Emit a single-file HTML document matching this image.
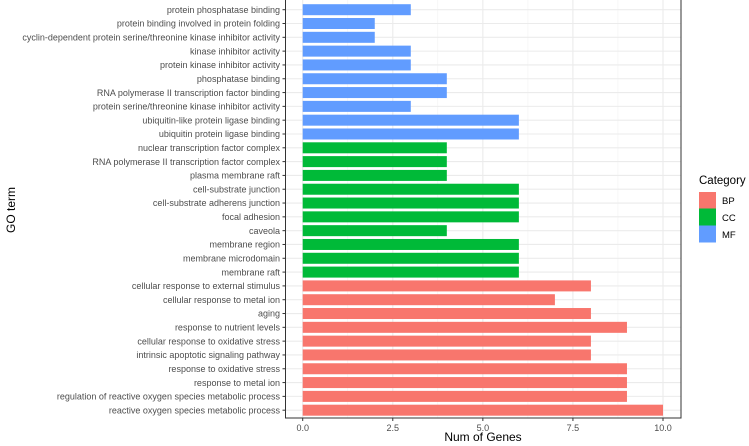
<!DOCTYPE html>
<html><head><meta charset="utf-8"><style>
body{margin:0;background:#fff}
svg{display:block;font-family:"Liberation Sans",Arial,sans-serif}
</style></head><body>
<svg id="chart" width="749" height="446" viewBox="0 0 749 446">
<rect x="0" y="0" width="749" height="446" fill="#fff"/>
<g id="grid"></g>
<g id="bars"></g>
<rect x="285.5" y="-1" width="395.5" height="419" fill="none" stroke="#333" stroke-width="1"/>
<g id="yaxis"></g>
<g id="xaxis"></g>
<text x="483" y="441" font-size="12" text-anchor="middle" fill="#000">Num of Genes</text>
<text transform="translate(15,210) rotate(-90)" font-size="12" text-anchor="middle" fill="#000">GO term</text>
<g>
<text x="699" y="184" font-size="11.5" fill="#000">Category</text>
<g><rect x="699" y="192" width="17" height="16.5" fill="#F8766D"/><text x="722" y="204" font-size="9.5" fill="#000">BP</text></g>
<g><rect x="699" y="208.5" width="17" height="17" fill="#00BA38"/><text x="722" y="221" font-size="9.5" fill="#000">CC</text></g>
<g><rect x="699" y="225.5" width="17" height="17" fill="#619CFF"/><text x="722" y="238" font-size="9.5" fill="#000">MF</text></g>
</g>
</svg>
<script>
const terms=["protein phosphatase binding","protein binding involved in protein folding","cyclin-dependent protein serine/threonine kinase inhibitor activity","kinase inhibitor activity","protein kinase inhibitor activity","phosphatase binding","RNA polymerase II transcription factor binding","protein serine/threonine kinase inhibitor activity","ubiquitin-like protein ligase binding","ubiquitin protein ligase binding","nuclear transcription factor complex","RNA polymerase II transcription factor complex","plasma membrane raft","cell-substrate junction","cell-substrate adherens junction","focal adhesion","caveola","membrane region","membrane microdomain","membrane raft","cellular response to external stimulus","cellular response to metal ion","aging","response to nutrient levels","cellular response to oxidative stress","intrinsic apoptotic signaling pathway","response to oxidative stress","response to metal ion","regulation of reactive oxygen species metabolic process","reactive oxygen species metabolic process"];
const counts=[3,2,2,3,3,4,4,3,6,6,4,4,4,6,6,6,4,6,6,6,8,7,8,9,8,8,9,9,9,10];
const categories=["MF","MF","MF","MF","MF","MF","MF","MF","MF","MF","CC","CC","CC","CC","CC","CC","CC","CC","CC","CC","BP","BP","BP","BP","BP","BP","BP","BP","BP","BP"];
const xTicks=[0,2.5,5,7.5,10];
const xTickLabels=["0.0","2.5","5.0","7.5","10.0"];
const colors={BP:"#F8766D",CC:"#00BA38",MF:"#619CFF"};
const NS="http://www.w3.org/2000/svg";
const x0=302.7,xScale=36.03;
const X=v=>x0+v*xScale;
const Y=i=>9.7+i*13.81;
function mk(t,a,p){const e=document.createElementNS(NS,t);for(const k in a)e.setAttribute(k,a[k]);p.appendChild(e);return e;}
const grid=document.getElementById('grid'),bars=document.getElementById('bars'),ya=document.getElementById('yaxis'),xa=document.getElementById('xaxis');
for(let k=0;k<xTicks.length-1;k++){const g=mk('line',{x1:X((xTicks[k]+xTicks[k+1])/2),x2:X((xTicks[k]+xTicks[k+1])/2),y1:0,y2:418,stroke:'#f2f2f2','stroke-width':0.6},grid);

}
xTicks.forEach((t,k)=>{const g=mk('line',{x1:X(t),x2:X(t),y1:0,y2:418,stroke:'#ebebeb','stroke-width':1.1},grid);


const tk=mk('line',{x1:X(t),x2:X(t),y1:418,y2:421,stroke:'#333'},xa);


const tl=mk('text',{x:X(t),y:431,'font-size':9,'text-anchor':'middle',fill:'#4d4d4d'},xa);
tl.textContent=xTickLabels[k];

});
terms.forEach((t,i)=>{const y=Y(i);
const gl=mk('line',{x1:285.5,x2:681,y1:y,y2:y,stroke:'#ebebeb','stroke-width':1.1},grid);


const b=mk('rect',{x:X(0),y:y-5.5,width:X(counts[i])-X(0),height:11,fill:colors[categories[i]]},bars);


const tk=mk('line',{x1:282.5,x2:285.5,y1:y,y2:y,stroke:'#333'},ya);


const tl=mk('text',{x:280,y:y+3.2,'font-size':9,'text-anchor':'end',fill:'#4d4d4d'},ya);
tl.textContent=t;

});
</script>
</body></html>
